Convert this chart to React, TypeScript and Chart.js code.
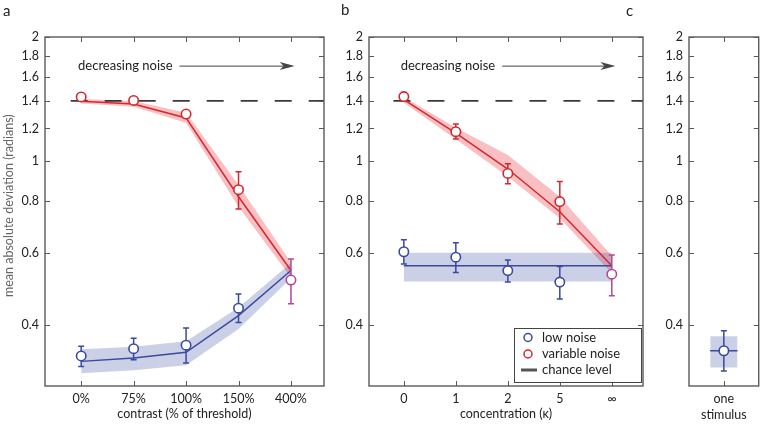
import React, { useEffect, useRef } from "react";
import { Chart, registerables } from "chart.js";
Chart.register(...registerables);

// ---------- data ----------
const yTicks = [0.4, 0.6, 0.8, 1, 1.2, 1.4, 1.6, 1.8, 2];
const yTickLabels = ["0.4", "0.6", "0.8", "1", "1.2", "1.4", "1.6", "1.8", "2"];
const chanceLevel = 1.4;

// panel a: contrast
const contrastLabels = ["0%", "75%", "100%", "150%", "400%"];
const aLowMean = [0.337, 0.351, 0.358, 0.44, 0.515];
const aLowErrLo = [0.318, 0.33, 0.324, 0.406, 0.451];
const aLowErrHi = [0.356, 0.372, 0.394, 0.476, 0.579];
const aLowModel = [0.327, 0.333, 0.344, 0.422, 0.543];
const aLowBandLo = [0.306, 0.311, 0.32, 0.392, 0.52];
const aLowBandHi = [0.35, 0.355, 0.366, 0.442, 0.566];
const aVarMean = [1.431, 1.404, 1.301, 0.853];
const aVarErrLo = [1.415, 1.39, 1.285, 0.766];
const aVarErrHi = [1.45, 1.418, 1.318, 0.943];
const aVarModel = [1.397, 1.376, 1.273, 0.82, 0.543];
const aVarBandLo = [1.38, 1.355, 1.24, 0.775, 0.522];
const aVarBandHi = [1.415, 1.4, 1.31, 0.875, 0.568];

// panel b: concentration
const kappaLabels = ["0", "1", "2", "5", "∞"];
const bLowMean = [0.603, 0.585, 0.543, 0.509, 0.532];
const bLowErrLo = [0.563, 0.537, 0.509, 0.463, 0.472];
const bLowErrHi = [0.645, 0.634, 0.576, 0.555, 0.592];
const bLowModel = [0.558, 0.558, 0.558, 0.558, 0.558];
const bLowBandLo = [0.511, 0.511, 0.511, 0.511, 0.511];
const bLowBandHi = [0.6, 0.6, 0.6, 0.6, 0.6];
const bVarMean = [1.434, 1.179, 0.934, 0.798];
const bVarErrLo = [1.4, 1.132, 0.882, 0.704];
const bVarErrHi = [1.468, 1.231, 0.986, 0.893];
const bVarModel = [1.409, 1.17, 0.957, 0.754, 0.558];
const bVarBandLo = [1.385, 1.13, 0.918, 0.727, 0.535];
const bVarBandHi = [1.43, 1.205, 1.035, 0.82, 0.59];

// panel c: one stimulus
const cLabels = [["one", "stimulus"]];
const cMean = [0.347];
const cErrLo = [0.31];
const cErrHi = [0.388];
const cModel = [0.347, 0.347];
const cBandLo = [0.316, 0.316];
const cBandHi = [0.376, 0.376];
const cBandX = [-0.27, 0.27];

const legendLabels = ["low noise", "variable noise", "chance level"];
const noteText = "decreasing noise";
const yTitleText = "mean absolute deviation (radians)";

// ---------- styles ----------
const FONT = "Lato, 'Open Sans', sans-serif";
const BLUE = "#3a4a9e";
const RED = "#d4282e";
const MAGENTA = "#b0489a";
const BLUE_BAND = "rgba(58,74,158,0.26)";
const RED_BAND = "rgba(236,70,78,0.34)";
const AXIS = "#5a5a5a";
const TEXT = "#222";
const W = 765;
const H = 424;
const TOP = 37;
const BOTTOM = 386;

const idx = (arr: number[]) => arr.map((y, i) => ({ x: i, y }));

function band(lo: number[], hi: number[], color: string, xs?: number[]) {
  const mk = (a: number[]) => a.map((y, i) => ({ x: xs ? xs[i] : i, y }));
  return [
    { data: mk(lo), borderColor: "transparent", borderWidth: 0, pointRadius: 0, fill: false, order: 3 },
    { data: mk(hi), borderColor: "transparent", borderWidth: 0, pointRadius: 0, fill: "-1", backgroundColor: color, order: 3 },
  ];
}
function modelLine(ys: number[], color: string, xs?: number[]) {
  return {
    data: ys.map((y, i) => ({ x: xs ? xs[i] : i, y })),
    borderColor: color, borderWidth: 1.5, pointRadius: 0, fill: false, order: 1,
  };
}
function points(ys: number[], lo: number[], hi: number[], colors: string[]) {
  return {
    data: idx(ys), showLine: false, pointRadius: 4.7, pointBorderWidth: 1.6,
    pointBackgroundColor: "#fff", pointBorderColor: colors, borderColor: colors[0],
    errLo: lo, errHi: hi, order: 0, fill: false,
  };
}
function chance(xmin: number, xmax: number) {
  return {
    data: [{ x: xmin, y: chanceLevel }, { x: xmax, y: chanceLevel }],
    borderColor: "#1a1a1a", borderWidth: 1.5, borderDash: [17, 17], pointRadius: 0, fill: false, order: 2,
  };
}

const decor = {
  id: "decor",
  beforeDatasetDraw(chart: any, args: any) {
    const ds = chart.data.datasets[args.index];
    if (!ds.errLo) return;
    const { ctx } = chart;
    const xs = chart.scales.x, ys = chart.scales.y;
    ctx.save();
    ctx.lineWidth = 1.5;
    ds.data.forEach((p: any, i: number) => {
      const px = xs.getPixelForValue(p.x);
      const y1 = ys.getPixelForValue(ds.errLo[i]);
      const y2 = ys.getPixelForValue(ds.errHi[i]);
      ctx.strokeStyle = ds.pointBorderColor[i];
      ctx.beginPath();
      ctx.moveTo(px, y1); ctx.lineTo(px, y2);
      ctx.moveTo(px - 3, y1); ctx.lineTo(px + 3, y1);
      ctx.moveTo(px - 3, y2); ctx.lineTo(px + 3, y2);
      ctx.stroke();
    });
    ctx.restore();
  },
  afterDatasetsDraw(chart: any) {
    const o = chart.options.plugins.decor;
    const { ctx } = chart;
    const { left, right, top, bottom } = chart.chartArea;
    const xs = chart.scales.x, ys = chart.scales.y;
    ctx.save();
    // frame
    ctx.strokeStyle = AXIS;
    ctx.lineWidth = 1.4;
    ctx.strokeRect(left, top, right - left, bottom - top);
    ctx.lineWidth = 1;
    ctx.beginPath();
    yTicks.forEach((v) => {
      const py = Math.round(ys.getPixelForValue(v)) + 0.5;
      ctx.moveTo(left, py); ctx.lineTo(left + 5, py);
      ctx.moveTo(right, py); ctx.lineTo(right - 5, py);
    });
    o.xTicks.forEach((v: number) => {
      const px = Math.round(xs.getPixelForValue(v)) + 0.5;
      ctx.moveTo(px, top); ctx.lineTo(px, top + 5);
      ctx.moveTo(px, bottom); ctx.lineTo(px, bottom - 5);
    });
    ctx.stroke();

    // y title
    if (o.yTitle) {
      ctx.save();
      ctx.translate(9, ys.getPixelForValue(0.78));
      ctx.rotate(-Math.PI / 2);
      ctx.font = `12.5px ${FONT}`;
      ctx.fillStyle = "#666";
      ctx.textAlign = "center";
      ctx.textBaseline = "middle";
      ctx.fillText(o.yTitle, 0, 0);
      ctx.restore();
    }

    // note + arrow
    if (o.note) {
      const tx = xs.getPixelForValue(-0.06);
      const ty = ys.getPixelForValue(1.7);
      ctx.font = `13px ${FONT}`;
      ctx.fillStyle = TEXT;
      ctx.textBaseline = "middle";
      ctx.textAlign = "left";
      ctx.fillText(noteText, tx, ty);
      const ax0 = tx + ctx.measureText(noteText).width + 7;
      const ax1 = xs.getPixelForValue(4.07);
      ctx.strokeStyle = "#444";
      ctx.fillStyle = "#444";
      ctx.lineWidth = 1;
      ctx.beginPath();
      ctx.moveTo(ax0, ty); ctx.lineTo(ax1 - 10, ty);
      ctx.stroke();
      ctx.beginPath();
      ctx.moveTo(ax1, ty); ctx.lineTo(ax1 - 15, ty - 4); ctx.lineTo(ax1 - 11, ty); ctx.lineTo(ax1 - 15, ty + 4);
      ctx.closePath();
      ctx.fill();
    }

    // legend
    if (o.legend) {
      const bw = 127, bh = 54;
      const bx = right - 2 - bw, by = bottom - 4 - bh;
      ctx.fillStyle = "#fff";
      ctx.fillRect(bx, by, bw, bh);
      ctx.strokeStyle = "#444";
      ctx.lineWidth = 1;
      ctx.strokeRect(Math.round(bx) + 0.5, Math.round(by) + 0.5, bw, bh);
      const rows = [by + 9.5, by + 26, by + 42];
      ctx.font = `13px ${FONT}`;
      ctx.textBaseline = "middle";
      ctx.textAlign = "left";
      [BLUE, RED].forEach((c, i) => {
        ctx.beginPath();
        ctx.arc(bx + 14, rows[i], 4, 0, Math.PI * 2);
        ctx.fillStyle = "#fff";
        ctx.fill();
        ctx.strokeStyle = c;
        ctx.lineWidth = 1.5;
        ctx.stroke();
      });
      ctx.strokeStyle = "#555";
      ctx.lineWidth = 3;
      ctx.beginPath();
      ctx.moveTo(bx + 7, rows[2]); ctx.lineTo(bx + 23, rows[2]);
      ctx.stroke();
      ctx.fillStyle = TEXT;
      legendLabels.forEach((t, i) => ctx.fillText(t, bx + 28, rows[i]));
    }

    // panel letter
    ctx.font = `15px ${FONT}`;
    ctx.fillStyle = TEXT;
    ctx.textAlign = "left";
    ctx.textBaseline = "middle";
    ctx.fillText(o.letter, o.letterX, o.letterY);
    ctx.restore();
  },
};

type Panel = {
  letter: string; letterX: number; letterY: number;
  left: number; right: number; yw: number;
  xmin: number; xmax: number;
  xTicks: number[]; xLabels: any[];
  xTitle?: string; yTitle?: string;
  datasets: any[]; note?: boolean; legend?: boolean;
};

const panels: Panel[] = [
  {
    letter: "a", letterX: 3, letterY: 11, left: 45, right: 324, yw: 45,
    xmin: -0.69, xmax: 4.63, xTicks: [0, 1, 2, 3, 4], xLabels: contrastLabels,
    xTitle: "contrast (% of threshold)", yTitle: yTitleText,
    note: true,
    datasets: [
      points(aLowMean, aLowErrLo, aLowErrHi, [BLUE, BLUE, BLUE, BLUE, MAGENTA]),
      points(aVarMean, aVarErrLo, aVarErrHi, [RED, RED, RED, RED]),
      modelLine(aLowModel, BLUE),
      modelLine(aVarModel, RED),
      chance(-0.2, 4.63),
      ...band(aLowBandLo, aLowBandHi, BLUE_BAND),
      ...band(aVarBandLo, aVarBandHi, RED_BAND),
    ],
  },
  {
    letter: "b", letterX: 341, letterY: 10, left: 369, right: 643, yw: 40,
    xmin: -0.67, xmax: 4.6, xTicks: [0, 1, 2, 3, 4], xLabels: kappaLabels,
    xTitle: "concentration (κ)", note: true, legend: true,
    datasets: [
      points(bLowMean, bLowErrLo, bLowErrHi, [BLUE, BLUE, BLUE, BLUE, MAGENTA]),
      points(bVarMean, bVarErrLo, bVarErrHi, [RED, RED, RED, RED]),
      modelLine(bLowModel, BLUE),
      modelLine(bVarModel, RED),
      chance(-0.2, 4.6),
      ...band(bLowBandLo, bLowBandHi, BLUE_BAND),
      ...band(bVarBandLo, bVarBandHi, RED_BAND),
    ],
  },
  {
    letter: "c", letterX: 626, letterY: 11, left: 689, right: 761, yw: 40,
    xmin: -0.69, xmax: 0.69, xTicks: [0], xLabels: cLabels,
    datasets: [
      points(cMean, cErrLo, cErrHi, [BLUE]),
      modelLine(cModel, BLUE, cBandX),
      ...band(cBandLo, cBandHi, BLUE_BAND, cBandX),
    ],
  },
];

function makeConfig(p: Panel): any {
  return {
    type: "line",
    data: { datasets: p.datasets },
    options: {
      responsive: false,
      animation: false,
      devicePixelRatio: 1,
      layout: { padding: { left: p.left - p.yw, right: W - p.right, top: TOP, bottom: 0 } },
      plugins: {
        legend: { display: false },
        tooltip: { enabled: false },
        decor: {
          letter: p.letter, letterX: p.letterX, letterY: p.letterY, xTicks: p.xTicks,
          note: p.note, legend: p.legend, yTitle: p.yTitle,
        },
      },
      scales: {
        x: {
          type: "linear", min: p.xmin, max: p.xmax, bounds: "data",
          grid: { display: false, drawTicks: false },
          border: { display: false },
          afterBuildTicks: (s: any) => { s.ticks = p.xTicks.map((v) => ({ value: v })); },
          afterFit: (s: any) => { s.height = H - BOTTOM; },
          ticks: {
            autoSkip: false, maxRotation: 0, padding: 5, color: TEXT,
            font: { family: FONT, size: 12.5, lineHeight: 1.3 },
            callback: (v: number) => p.xLabels[p.xTicks.indexOf(v)] ?? "",
          },
          title: {
            display: !!p.xTitle, text: p.xTitle || "", color: TEXT,
            font: { family: FONT, size: 12.5 }, padding: { top: 0, bottom: 3 },
          },
        },
        y: {
          type: "logarithmic", min: 0.285, max: 2, bounds: "data",
          grid: { display: false, drawTicks: false },
          border: { display: false },
          afterBuildTicks: (s: any) => { s.ticks = yTicks.map((v) => ({ value: v })); },
          afterFit: (s: any) => { s.width = p.yw; },
          ticks: {
            autoSkip: false, padding: 6, color: TEXT,
            font: { family: FONT, size: 12.5 },
            callback: (v: number) => { const i = yTicks.indexOf(v); return i >= 0 ? yTickLabels[i] : ""; },
          },
        },
      },
    },
    plugins: [decor],
  };
}

function PanelCanvas({ p }: { p: Panel }) {
  const ref = useRef<HTMLCanvasElement | null>(null);
  useEffect(() => {
    if (!ref.current) return;
    const chart = new Chart(ref.current, makeConfig(p));
    return () => chart.destroy();
  }, []);
  return <canvas ref={ref} width={W} height={H} style={{ position: "absolute", left: 0, top: 0 }} />;
}

export default function App() {
  return (
    <div style={{ position: "fixed", left: 0, top: 0, width: W, height: H, background: "#fff" }}>
      {panels.map((p) => (
        <PanelCanvas key={p.letter} p={p} />
      ))}
    </div>
  );
}
